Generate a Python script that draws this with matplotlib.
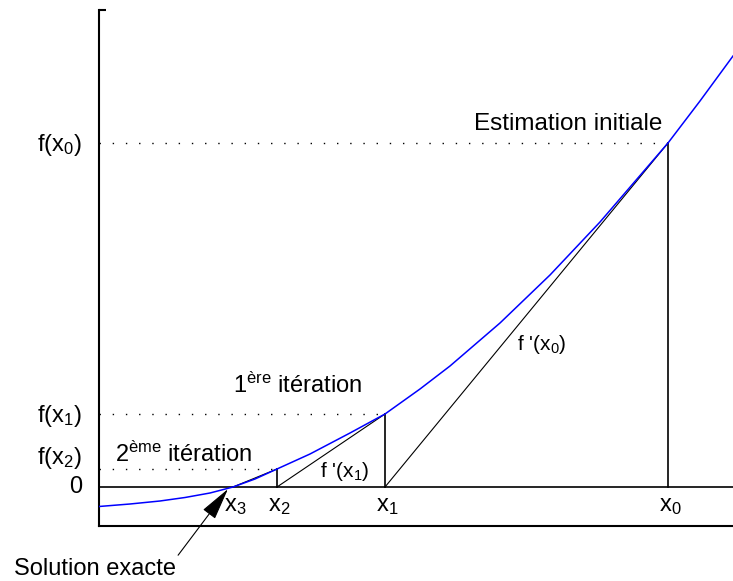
import matplotlib
matplotlib.use('Agg')
from matplotlib import pyplot as plt

plt.rcParams['font.family'] = ['Liberation Sans', 'DejaVu Sans']
plt.rcParams['mathtext.fontset'] = 'custom'
plt.rcParams['mathtext.rm'] = 'Liberation Sans'
plt.rcParams['mathtext.it'] = 'Liberation Sans'

# curve (x, f(x)) in arbitrary units
curve_x = [99, 130, 160, 185, 210, 233, 255, 277, 310, 350, 385, 420, 450,
           500, 550, 600, 668, 700, 733]
curve_y = [-19.5, -17, -14, -10.5, -6, 0, 8, 18, 33, 54, 73, 98, 121,
           164, 212, 265, 344, 386, 431]

# Newton iterates and function values
iter_x = [668, 385, 277, 233]          # x0, x1, x2, x3
iter_f = [344, 73, 18, 0]              # f(x0), f(x1), f(x2), f(x3)
iter_names = ['x$_0$', 'x$_1$', 'x$_2$', 'x$_3$']
f_names = ['f(x$_0$)', 'f(x$_1$)', 'f(x$_2$)']

x_min, x_max = 99, 733
y_min, y_max = -39, 477

fig = plt.figure(figsize=(7.33, 5.81), dpi=100)
ax = fig.add_axes([99 / 733, 55 / 581, 634 / 733, 516 / 581])
ax.set_xlim(x_min, x_max)
ax.set_ylim(y_min, y_max)

for s in ['top', 'right']:
    ax.spines[s].set_visible(False)
for s in ['left', 'bottom']:
    ax.spines[s].set_linewidth(1.5)
ax.set_xticks([])
ax.set_yticks([y_max])
ax.set_yticklabels([''])
ax.tick_params(axis='y', direction='in', length=5, width=1.5)

# zero line
ax.axhline(0, color='black', lw=1.2)

# function
ax.plot(curve_x, curve_y, color='#0000ff', lw=1.1, zorder=3)

# dotted levels, verticals and tangents
for i in range(3):
    ax.plot([x_min, iter_x[i]], [iter_f[i], iter_f[i]], color='black',
            lw=1.0, linestyle=(0, (1, 8.5)))
    ax.plot([iter_x[i], iter_x[i]], [0, iter_f[i]], color='black', lw=1.2)
    ax.plot([iter_x[i], iter_x[i + 1]], [iter_f[i], 0], color='black', lw=0.8)

# y labels
for i in range(3):
    dy = 11 if i == 2 else -2
    ax.text(x_min - 17, iter_f[i] + dy, f_names[i], ha='right', va='center',
            fontsize=17, clip_on=False)
ax.text(x_min - 17, 0, '0', ha='right', va='center', fontsize=17, clip_on=False)

# x labels
for i in range(4):
    ax.text(iter_x[i] + 2, -8, iter_names[i], ha='center', va='top',
            fontsize=17)

ax.text(662, 357, 'Estimation initiale', ha='right', va='baseline', fontsize=17.5)
ax.text(233, 94, '1$^{\\mathrm{ère}}$ itération', ha='left', va='baseline',
        fontsize=17)
ax.text(115, 25, '2$^{\\mathrm{ème}}$ itération', ha='left', va='baseline',
        fontsize=17)
ax.text(320, 10, "f '(x$_1$)", ha='left', va='baseline', fontsize=15)
ax.text(517, 137, "f '(x$_0$)", ha='left', va='baseline', fontsize=15)

ax.annotate('Solution exacte', xy=(228, -2), xytext=(95, -88),
            ha='center', va='baseline', fontsize=17, annotation_clip=False,
            arrowprops=dict(arrowstyle='-|>,head_length=1.2,head_width=0.28',
                            color='black', lw=0.8, shrinkA=0, shrinkB=0,
                            relpos=(1.0, 1.0)))

fig.savefig('out.png', dpi=100)
